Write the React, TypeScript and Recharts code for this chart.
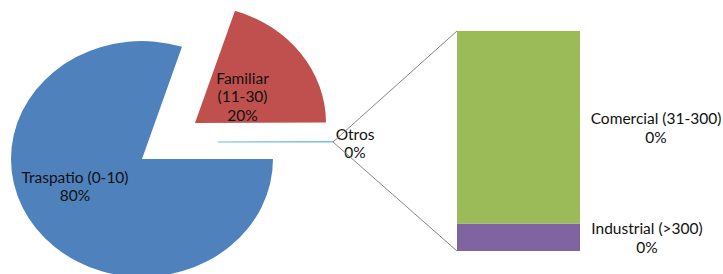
import { PieChart, Pie, Cell, BarChart, Bar, XAxis, YAxis, LabelList } from "recharts";

const PIE_NAMES = ["Traspatio (0-10)", "Familiar (11-30)", "Otros"];
const PIE_MAIN_VALUES = [80, 20];
const BAR_NAMES = ["Comercial (31-300)", "Industrial (>300)"];
const BAR_VALUES = [0.07, 0.01];

const PIE_COLORS = ["#4F81BD", "#C0504D", "none"];
const OTROS_STROKE = "#6FC3DA";
const BAR_COLORS = ["#9BBB59", "#8064A2"];

const FONT = "Lato, 'Open Sans', sans-serif";
const FONT_SIZE = 15.5;
const SY = 0.9; // excel squashes the pie a bit vertically
const LH = 18.5;

const otrosTotal = BAR_VALUES.reduce((a, b) => a + b, 0);
const pieData = PIE_NAMES.map((name, i) => ({
  name,
  value: i < PIE_MAIN_VALUES.length ? PIE_MAIN_VALUES[i] : otrosTotal,
}));
const grandTotal = pieData.reduce((a, d) => a + d.value, 0);
const barData = [
  { name: "Otros", comercial: BAR_VALUES[0], industrial: BAR_VALUES[1] },
];

// pie centres in screen px (y gets converted for the squash)
const PIE_ORIGIN_Y = 159;
const PAD = 40; // room above the squashed svg so nothing clips
const toU = (y: number) => PIE_ORIGIN_Y + PAD + (y - PIE_ORIGIN_Y) / SY;
const SLICES = [
  { cx: 142, cy: 159, r: 131, label: { dx: -67, dy: 27, wrap: false } },
  { cx: 195, cy: 123, r: 131, label: { dx: 47.5, dy: -27, wrap: true } },
  { cx: 218, cy: 142, r: 115, label: { dx: 137, dy: 1, wrap: false } },
];

const BAR = { left: 457, top: 31, width: 123, height: 220 };
const BAR_LABEL_DX = [76, 67];

const pct = (v: number) => `${Math.round((v / grandTotal) * 100)}%`;

function Lines({ lines, x, y, scaleY = 1 }: { lines: string[]; x: number; y: number; scaleY?: number }) {
  return (
    <text
      transform={`translate(${x} ${y}) scale(1 ${scaleY})`}
      textAnchor="middle"
      dominantBaseline="central"
      fontFamily={FONT}
      fontSize={FONT_SIZE}
      fill="#111"
    >
      {lines.map((l, i) => (
        <tspan key={i} x={0} y={(i - (lines.length - 1) / 2) * LH}>
          {l}
        </tspan>
      ))}
    </text>
  );
}

const pieLabel = (slice: number) => (props: any) => {
  if (props.index !== slice) return null;
  const d = pieData[slice];
  const { dx, dy, wrap } = SLICES[slice].label;
  const lines = wrap ? [...d.name.split(" "), pct(d.value)] : [d.name, pct(d.value)];
  return <Lines key={slice} lines={lines} x={props.cx + dx} y={props.cy + dy / SY} scaleY={1 / SY} />;
};

const barLabel = (k: number) => (props: any) => {
  const vb = props.viewBox ?? props;
  const x = vb.x + vb.width + BAR_LABEL_DX[k];
  const y = vb.y + vb.height / 2;
  return <Lines key={k} lines={[BAR_NAMES[k], pct(BAR_VALUES[k])]} x={x} y={y} />;
};

export default function App() {
  const otros = SLICES[2];
  const tipX = otros.cx + otros.r;
  const tipY = otros.cy;
  const barChartW = 723 - BAR.left;
  return (
    <div
      style={{
        position: "absolute",
        left: 0,
        top: 0,
        width: 723,
        height: 274,
        overflow: "hidden",
        background: "#fff",
      }}
    >
      <div
        style={{
          position: "absolute",
          left: 0,
          top: -PAD,
          transform: `scaleY(${SY})`,
          transformOrigin: `0 ${PIE_ORIGIN_Y + PAD}px`,
        }}
      >
        <PieChart width={460} height={360} margin={{ top: 0, right: 0, bottom: 0, left: 0 }}>
          {SLICES.map((s, si) => (
            <Pie
              key={si}
              data={pieData}
              dataKey="value"
              nameKey="name"
              cx={s.cx}
              cy={toU(s.cy)}
              outerRadius={s.r}
              startAngle={360}
              endAngle={0}
              isAnimationActive={false}
              label={pieLabel(si)}
              labelLine={false}
            >
              {pieData.map((_, i) => (
                <Cell
                  key={i}
                  fill={i === si ? PIE_COLORS[i] : "none"}
                  stroke={i === si && si === 2 ? OTROS_STROKE : "none"}
                  strokeWidth={i === si && si === 2 ? 1.2 : 0}
                />
              ))}
            </Pie>
          ))}
        </PieChart>
      </div>

      <div style={{ position: "absolute", left: BAR.left, top: 0 }}>
        <BarChart
          width={barChartW}
          height={274}
          data={barData}
          margin={{ top: BAR.top, right: barChartW - BAR.width, bottom: 274 - BAR.top - BAR.height, left: 0 }}
          barCategoryGap={0}
        >
          <XAxis dataKey="name" hide />
          <YAxis hide domain={[0, otrosTotal]} />
          <Bar dataKey="industrial" stackId="o" fill={BAR_COLORS[1]} isAnimationActive={false}>
            <LabelList content={barLabel(1)} />
          </Bar>
          <Bar dataKey="comercial" stackId="o" fill={BAR_COLORS[0]} isAnimationActive={false}>
            <LabelList content={barLabel(0)} />
          </Bar>
        </BarChart>
      </div>

      <svg width={723} height={274} style={{ position: "absolute", left: 0, top: 0, pointerEvents: "none" }}>
        <line x1={tipX} y1={tipY} x2={BAR.left} y2={BAR.top} stroke="#868686" strokeWidth={1} />
        <line x1={tipX} y1={tipY} x2={BAR.left} y2={BAR.top + BAR.height} stroke="#868686" strokeWidth={1} />
      </svg>
    </div>
  );
}
